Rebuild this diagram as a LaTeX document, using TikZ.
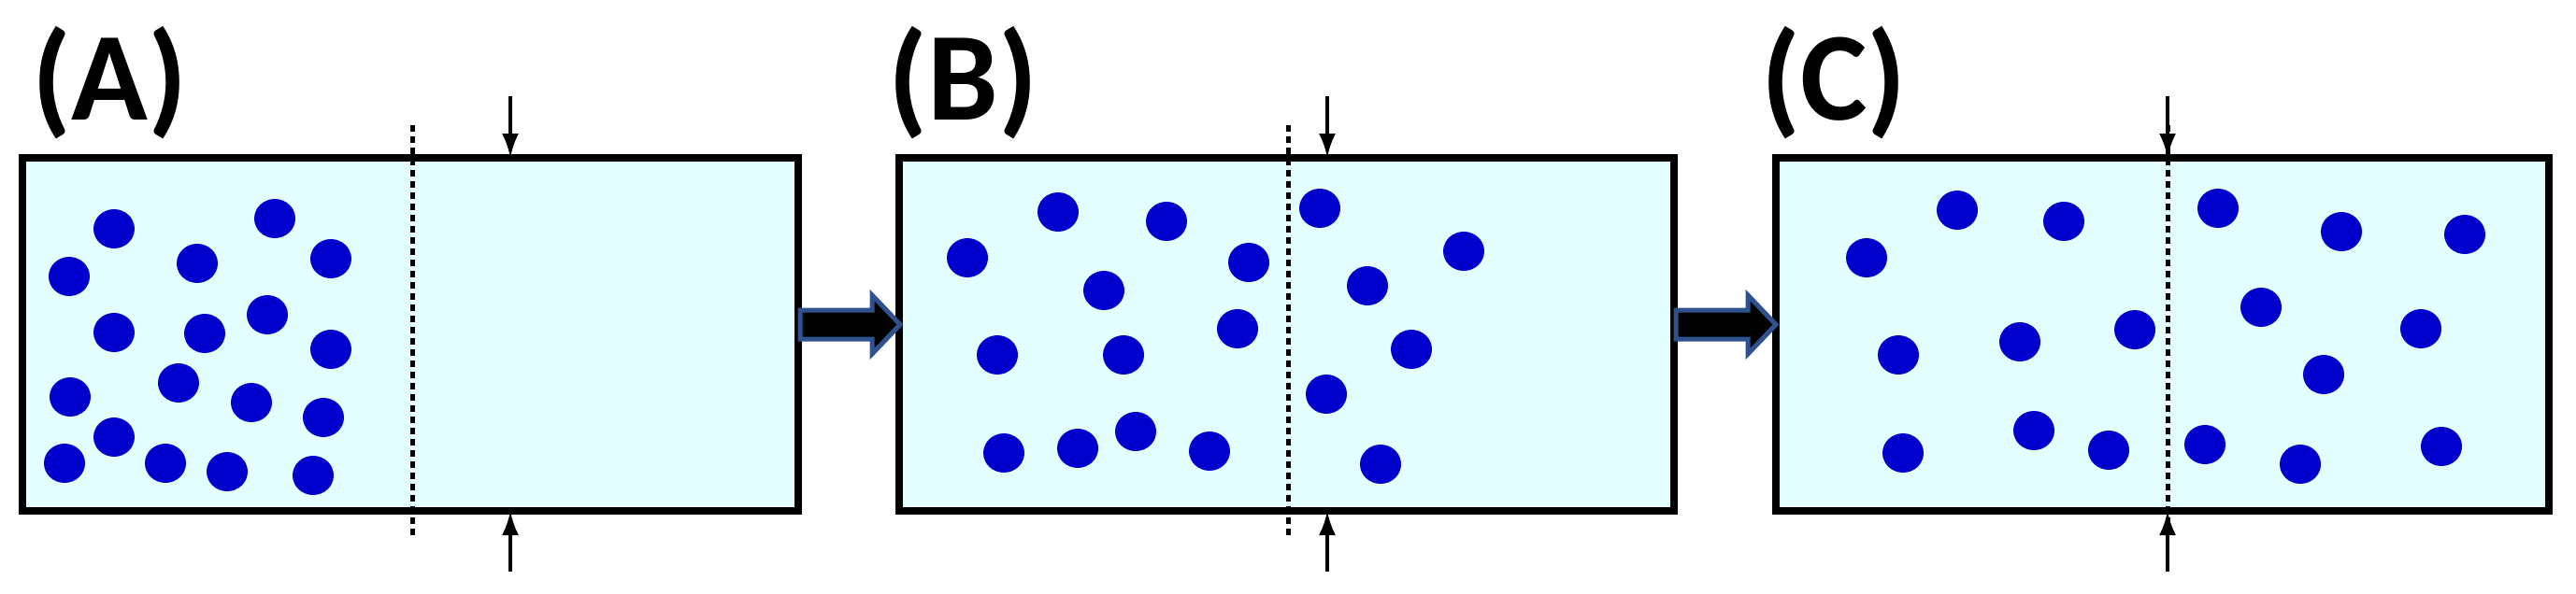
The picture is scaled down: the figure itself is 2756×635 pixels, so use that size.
\documentclass[tikz,border=0pt]{standalone}
\usepackage{fontspec}
\setmainfont{Carlito}
\usetikzlibrary{arrows.meta}
\definecolor{dotc}{HTML}{0000CC}
\definecolor{boxc}{HTML}{E4FFFF}
\definecolor{arrc}{HTML}{2F528F}
\tikzset{
 panel/.style={draw=black,line width=7.5pt,fill=boxc},
 divider/.style={line width=5pt,dash pattern=on 7pt off 5pt},
 press/.style={line width=4pt,-{Latex[length=26pt,width=18pt]}},
 mol/.style={fill=dotc,draw=none},
 lab/.style={font=\fontsize{135}{135}\selectfont\bfseries,anchor=north west,inner sep=0pt},
 blockarr/.style={draw=arrc,fill=black,line width=5pt,line join=miter}
}
\begin{document}
\begin{tikzpicture}[x=1pt,y=-1pt]
\useasboundingbox (0,0) rectangle (2756,635);
% panels
\path[panel] (24,169) rectangle (854,547);
\path[panel] (962,169) rectangle (1791,547);
\path[panel] (1900,169) rectangle (2727,547);
\node[lab] (la) at (34,28) {(A)};
\node[lab] (lb) at (950,28) {(B)};
\node[lab] (lc) at (1884,28) {(C)};
% dividers
\draw[divider] (441,134) -- (441,573);
\draw[divider] (1378,134) -- (1378,573);
\draw[divider] (2319,134) -- (2319,573);
% pressure arrows
\foreach \x in {546,1420,2319}{
 \coordinate (t1) at (\x,103); \coordinate (t2) at (\x,169);
 \coordinate (b1) at (\x,612); \coordinate (b2) at (\x,547);
 \draw[press] (t1) -- (t2);
 \draw[press] (b1) -- (b2);
}
% block arrows
\foreach \a in {856,1793}{
 \draw[blockarr] (\a,332) -- ++(77,0) -- ++(0,-16) -- ++(30,31.5) -- ++(-30,31.5) -- ++(0,-16) -- ++(-77,0) -- cycle;
}
% molecules
\foreach \x/\y in {122/245,74/296,211/282,294/234,354/277,122/356,219/357,286/337,354/374,75/425,191/410,269/431,346/447,122/468,69/496,177/496,243/505,335/509,
1132/227,1248/237,1035/276,1336/281,1181/311,1412/223,1463/306,1566/269,1067/380,1202/380,1324/352,1510/374,1419/422,1074/485,1153/480,1215/462,1294/483,1477/497,
2094/225,2208/237,1997/276,2373/223,2505/248,2637/251,2419/329,2590/352,2031/380,2161/366,2284/353,2486/401,2036/485,2176/461,2256/482,2359/476,2461/497,2612/478}
 \fill[mol] (\x,\y) ellipse [x radius=22, y radius=21];
\end{tikzpicture}
\end{document}
